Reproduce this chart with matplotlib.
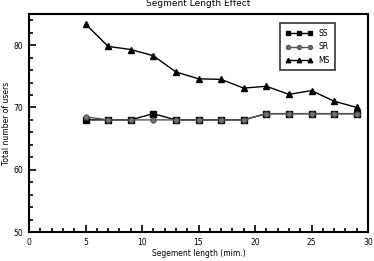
import matplotlib
matplotlib.use('Agg')
from matplotlib import pyplot as plt
from matplotlib.ticker import MultipleLocator

x = [5, 7, 9, 11, 13, 15, 17, 19, 21, 23, 25, 27, 29]
ss = [68, 68, 68, 69, 68, 68, 68, 68, 69, 69, 69, 69, 69]
sr = [68.5, 68, 68, 68, 68, 68, 68, 68, 69, 69, 69, 69, 69]
ms = [83.4, 79.8, 79.3, 78.3, 75.7, 74.6, 74.5, 73.1, 73.4, 72.1, 72.7, 71.0, 70.0]

fig = plt.figure(figsize=(3.74, 2.61), dpi=100)
ax = fig.add_axes([29/374, 29/261, 339/374, 218/261])

ax.plot(x, ss, color='black', marker='s', ms=4, lw=1, label='SS')
ax.plot(x, sr, color='#555555', marker='o', ms=3.5, mfc='#777777', mec='#555555', lw=1, label='SR')
ax.plot(x, ms, color='black', marker='^', ms=4, lw=1, label='MS')

ax.set_xlim(0, 30)
ax.set_ylim(50, 85)
ax.xaxis.set_major_locator(MultipleLocator(5))
ax.xaxis.set_minor_locator(MultipleLocator(1))
ax.yaxis.set_major_locator(MultipleLocator(10))
ax.yaxis.set_minor_locator(MultipleLocator(2))
ax.tick_params(which='both', direction='in', labelsize=5.5, width=1.2, top=False, right=False, pad=4)
ax.tick_params(which='major', length=5)
ax.tick_params(which='minor', length=3)
for s in ax.spines.values():
    s.set_linewidth(1.5)

ax.set_title('Segment Length Effect', fontsize=6.5, pad=6)
ax.set_xlabel('Segement length (mim.)', fontsize=5.5, labelpad=2)
ax.set_ylabel('Total number of users', fontsize=5.5, labelpad=2)

leg = ax.legend(loc='upper right', bbox_to_anchor=(0.915, 0.975), numpoints=3, fontsize=5.5,
                fancybox=False, edgecolor='black', handlelength=3.5, borderpad=0.7,
                labelspacing=0.6, markerscale=0.8)
leg.get_frame().set_linewidth(1.2)

fig.savefig('out.png', dpi=100)
